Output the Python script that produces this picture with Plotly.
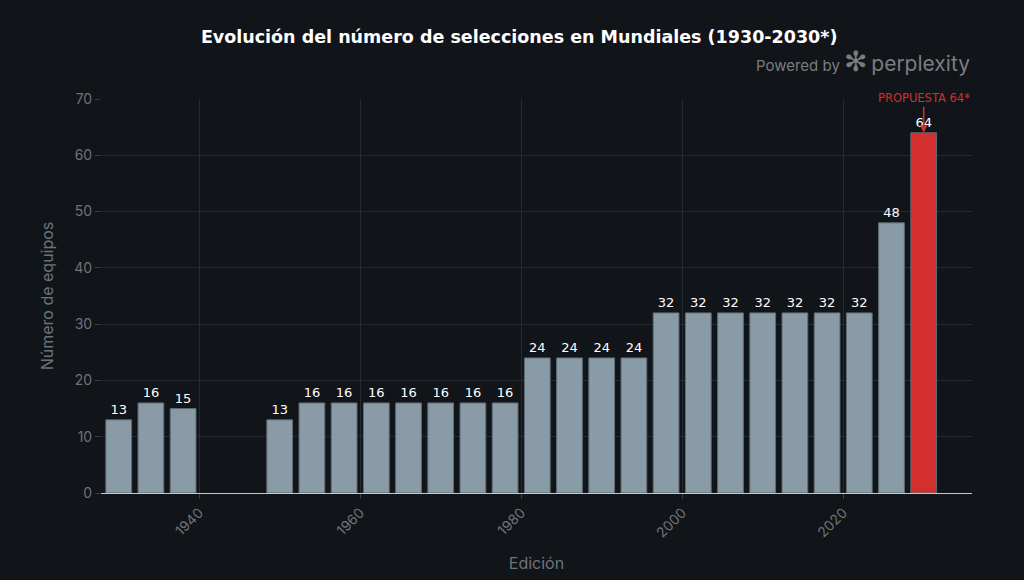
import plotly.graph_objects as go

years = [1930, 1934, 1938, 1950, 1954, 1958, 1962, 1966, 1970, 1974, 1978,
         1982, 1986, 1990, 1994, 1998, 2002, 2006, 2010, 2014, 2018, 2022, 2026, 2030]
teams = [13, 16, 15, 13, 16, 16, 16, 16, 16, 16, 16,
         24, 24, 24, 24, 32, 32, 32, 32, 32, 32, 32, 48, 64]
tick_years = [1940, 1960, 1980, 2000, 2020]

BG = "#111418"
GRAY = "#8a9ba8"
RED = "#d32f2f"
AXIS_TXT = "#6e7378"

colors = [RED if y == 2030 else GRAY for y in years]

fig = go.Figure()
fig.add_trace(go.Bar(
    x=years, y=teams,
    width=3.2,
    marker=dict(color=colors, line=dict(color="#5d6b75", width=1)),
    text=[str(v) for v in teams],
    textposition="outside",
    textfont=dict(color="#ffffff", size=13, family="DejaVu Sans"),
    cliponaxis=False,
    hoverinfo="x+y",
))

fig.add_annotation(
    x=2030, y=64, xref="x", yref="y",
    text="PROPUESTA 64*",
    showarrow=True, arrowhead=2, arrowsize=1, arrowwidth=1.5,
    arrowcolor=RED, ax=0, ay=-26,
    font=dict(color=RED, size=11.5, family="DejaVu Sans"),
    yanchor="bottom",
)

fig.add_annotation(
    xref="paper", yref="paper", x=1.0, y=1.0, yshift=19,
    xanchor="right", yanchor="bottom",
    text="Powered by <span style='font-size:28px'>✻</span> <span style='font-size:21px'>perplexity</span>",
    showarrow=False,
    font=dict(color="#7a7d80", size=15, family="Inter"),
)

fig.update_layout(
    width=1024, height=580,
    paper_bgcolor=BG, plot_bgcolor=BG,
    margin=dict(l=101, r=52, t=99, b=87),
    title=dict(
        text="<b>Evolución del número de selecciones en Mundiales (1930-2030*)</b>",
        x=0.507, xanchor="center", y=0.937, yanchor="middle",
        font=dict(color="#ffffff", size=17.5, family="DejaVu Sans"),
    ),
    showlegend=False,
    bargap=0.2,
    xaxis=dict(
        range=[1927.8, 2036],
        tickvals=tick_years,
        tickangle=-45,
        tickfont=dict(color=AXIS_TXT, size=14, family="Inter"),
        showgrid=True, gridcolor="#262b31", gridwidth=1,
        showline=True, linecolor="#c8c8c8", linewidth=1,
        ticks="outside", tickcolor="#3a3f45", ticklen=5,
        zeroline=False, automargin=False,
        title=dict(text="Edición", font=dict(color=AXIS_TXT, size=16, family="Inter"), standoff=18),
    ),
    yaxis=dict(
        range=[0, 70],
        tickvals=[0, 10, 20, 30, 40, 50, 60, 70],
        tickfont=dict(color=AXIS_TXT, size=14, family="Inter"),
        showgrid=True, gridcolor="#262b31", gridwidth=1,
        zeroline=False, automargin=False,
        ticks="outside", tickcolor="#3a3f45", ticklen=5,
        title=dict(text="Número de equipos", font=dict(color=AXIS_TXT, size=16, family="Inter"), standoff=16),
    ),
)

fig.write_html("out.html")
